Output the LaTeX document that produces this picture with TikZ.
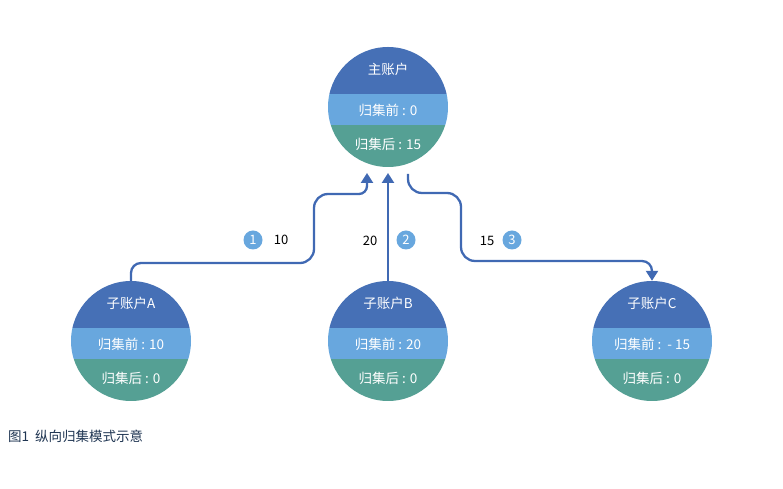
\documentclass[tikz,border=0pt]{standalone}
\usepackage{fontspec}
\setmainfont{Noto Sans CJK SC}
\usepackage{tikz}
\usetikzlibrary{arrows.meta}
\definecolor{acct-dark}{HTML}{4670B6}
\definecolor{acct-light}{HTML}{68A7DE}
\definecolor{acct-green}{HTML}{55A094}
\definecolor{flow-blue}{HTML}{4069B3}
\definecolor{caption-ink}{HTML}{1F3552}
\tikzset{
    acct-circle/.style = {circle, minimum size=120pt, inner sep=0pt, path picture={
        \fill[acct-dark] ([shift={(-61pt,13pt)}]path picture bounding box.center) rectangle ++(122pt,50pt);
        \fill[acct-light] ([shift={(-61pt,-18pt)}]path picture bounding box.center) rectangle ++(122pt,31pt);
        \fill[acct-green] ([shift={(-61pt,-62pt)}]path picture bounding box.center) rectangle ++(122pt,44pt);
    }},
    acct-text/.style = {text=white, font=\fontsize{13.5}{15}\selectfont, inner sep=0pt},
    step-badge/.style = {circle, fill=acct-light, text=white, minimum size=19pt, inner sep=0pt, font=\fontsize{13}{15}\selectfont},
    amount/.style = {text=black, inner sep=0pt, font=\fontsize{13}{15}\selectfont},
    flow/.style = {draw=flow-blue, line width=2.3pt, -{Triangle[width=12pt,length=10pt]}},
}

\begin{document}
\begin{tikzpicture}[x=1pt,y=1pt]
\useasboundingbox (0,0) rectangle (783,489);

% accounts
\node[acct-circle] (main) at (388,382) {};
\node[acct-circle] (sub-a) at (131,148) {};
\node[acct-circle] (sub-b) at (388,148) {};
\node[acct-circle] (sub-c) at (652,148) {};

\node[acct-text] (main-title) at ([yshift=38pt]main.center) {主账户};
\node[acct-text] (main-before) at ([yshift=-3pt]main.center) {归集前 : 0};
\node[acct-text] (main-after) at ([yshift=-37pt]main.center) {归集后 : 15};

\node[acct-text] (a-title) at ([yshift=38pt]sub-a.center) {子账户A};
\node[acct-text] (a-before) at ([yshift=-3pt]sub-a.center) {归集前 : 10};
\node[acct-text] (a-after) at ([yshift=-37pt]sub-a.center) {归集后 : 0};

\node[acct-text] (b-title) at ([yshift=38pt]sub-b.center) {子账户B};
\node[acct-text] (b-before) at ([yshift=-3pt]sub-b.center) {归集前 : 20};
\node[acct-text] (b-after) at ([yshift=-37pt]sub-b.center) {归集后 : 0};

\node[acct-text] (c-title) at ([yshift=38pt]sub-c.center) {子账户C};
\node[acct-text] (c-before) at ([yshift=-3pt]sub-c.center) {归集前 :\ \ - 15};
\node[acct-text] (c-after) at ([yshift=-37pt]sub-c.center) {归集后 : 0};

% flows
\coordinate (in-a) at (367,316);
\coordinate (in-b) at (388,316);
\coordinate (out-c) at (408,315);

\draw[flow] (sub-a.north) [rounded corners=10pt] -- (131,226) [rounded corners=14pt] -- (314,226) -- (314,295) [rounded corners=8pt] -- (367,295) -- (in-a);
\draw[flow] (sub-b.north) -- (in-b);
\draw[flow] (out-c) [rounded corners=14pt] -- (408,296) -- (461,296) -- (461,228) [rounded corners=10pt] -- (652,228) -- (sub-c.north);

\node[step-badge] (step-1) at (253,249) {1};
\node[amount] (amt-1) at (281,249) {10};
\node[amount] (amt-2) at (370,248) {20};
\node[step-badge] (step-2) at (406,249) {2};
\node[amount] (amt-3) at (487,248) {15};
\node[step-badge] (step-3) at (512,249) {3};

\node[anchor=west, text=caption-ink, inner sep=0pt, font=\fontsize{13.5}{15}\selectfont] (caption) at (8,53) {图1\ \ 纵向归集模式示意};
\end{tikzpicture}
\end{document}
